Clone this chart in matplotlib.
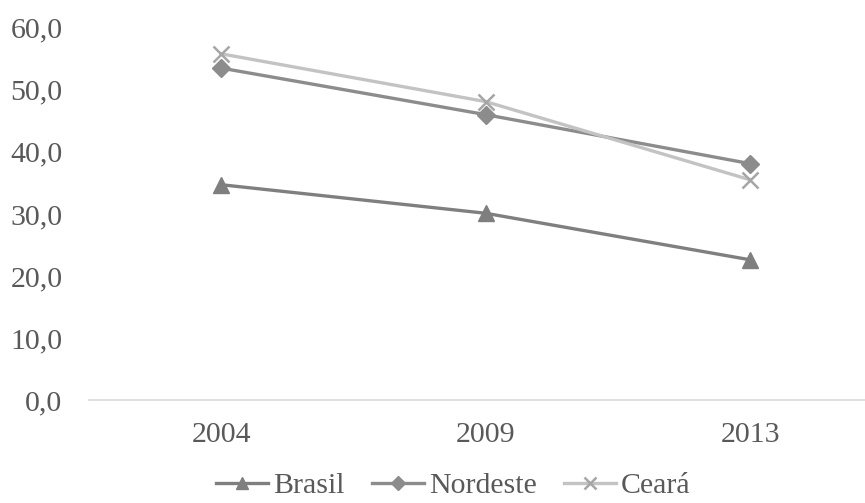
import matplotlib.pyplot as plt

# taxas por ano
anos = ['2004', '2009', '2013']
brasil = [34.7, 30.1, 22.6]
nordeste = [53.5, 46.0, 38.1]
ceara = [55.8, 48.1, 35.5]

plt.rcParams['font.family'] = ['Liberation Serif', 'DejaVu Serif']
texto = '#595959'

fig = plt.figure(figsize=(8.65, 5.03), dpi=100)
ax = fig.add_axes([89 / 865, 0.2048, 0.917, 0.740])

x = range(len(anos))
ax.plot(x, brasil, color='#7f7f7f', lw=2.4, marker='^', ms=12, label='Brasil')
ax.plot(x, nordeste, color='#8c8c8c', lw=2.4, marker='D', ms=9.5, label='Nordeste')
ax.plot(x, ceara, color='#c3c3c3', lw=2.4, marker='x', ms=11, mew=1.8,
        mec='#a6a6a6', label='Ceará')

ax.set_xlim(-0.5, 2.5)
ax.set_ylim(0, 60)
ax.set_xticks(list(x))
ax.set_xticklabels(anos)
ax.set_yticks(range(0, 61, 10))
ax.set_yticklabels([f'{v:.1f}'.replace('.', ',') for v in range(0, 61, 10)])
ax.tick_params(length=0, labelsize=21.5, colors=texto)
ax.tick_params(axis='y', pad=19)
ax.tick_params(axis='x', pad=16)

for s in ['top', 'right', 'left']:
    ax.spines[s].set_visible(False)
ax.spines['bottom'].set_color('#d9d9d9')
ax.spines['bottom'].set_linewidth(1.2)

fig.legend(loc='center', bbox_to_anchor=(0.524, 0.034), ncol=3, frameon=False,
           fontsize=21.5, labelcolor=texto, handlelength=1.75, handletextpad=0.17,
           columnspacing=0.9, markerscale=0.75, borderpad=0.2)

fig.savefig('out.png', dpi=100)
